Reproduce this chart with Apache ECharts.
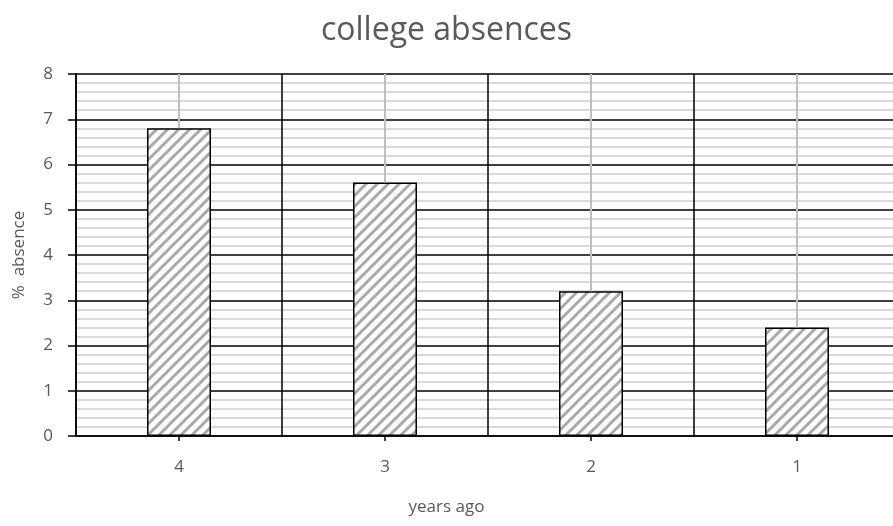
<!DOCTYPE html>
<html>
<head>
<meta charset="utf-8">
<script src="https://cdn.jsdelivr.net/npm/echarts@6/dist/echarts.min.js"></script>
<style>
  html, body { margin: 0; padding: 0; background: #fff; }
  #chart { width: 893px; height: 526px; }
</style>
</head>
<body>
<div id="chart"></div>
<script>
// Years-ago categories and absence percentages
const categories = ['4', '3', '2', '1'];
const absences = [6.8, 5.6, 3.2, 2.4];
const yMin = 0;
const yMax = 8;
const yStep = 1;

// Diagonal hatch fill for the bars
function hatchPattern() {
  const size = 11;
  const c = document.createElement('canvas');
  c.width = size;
  c.height = size;
  const ctx = c.getContext('2d');
  ctx.fillStyle = '#ffffff';
  ctx.fillRect(0, 0, size, size);
  ctx.strokeStyle = '#a9a9a9';
  ctx.lineWidth = 3;
  ctx.beginPath();
  ctx.moveTo(-size / 2, size / 2); ctx.lineTo(size / 2, -size / 2);
  ctx.moveTo(0, size); ctx.lineTo(size, 0);
  ctx.moveTo(size / 2, size * 1.5); ctx.lineTo(size * 1.5, size / 2);
  ctx.stroke();
  return c;
}

const textColor = '#595959';
const font = "'Open Sans', 'Noto Sans', sans-serif";

const chart = echarts.init(document.getElementById('chart'), null, { renderer: 'canvas' });

chart.setOption({
  animation: false,
  backgroundColor: '#ffffff',
  title: {
    text: 'college absences',
    left: 'center',
    top: 10,
    textStyle: { color: textColor, fontSize: 32, fontWeight: 'normal', fontFamily: font }
  },
  // x-axis title is centred on the whole canvas rather than on the plot area
  graphic: [{
    type: 'text',
    left: 'center',
    top: 499,
    style: { text: 'years ago', fill: textColor, font: "17px 'Open Sans', 'Noto Sans', sans-serif" }
  }],
  grid: { left: 76, right: -7, top: 74, bottom: 90, outerBoundsMode: 'none', containLabel: false },
  xAxis: {
    type: 'category',
    data: categories,
    axisLine: { show: true, lineStyle: { color: '#000', width: 1.5 } },
    axisTick: { show: true, alignWithLabel: true, length: 5, lineStyle: { color: '#000', width: 1.5 } },
    axisLabel: { color: textColor, fontSize: 17, fontFamily: font, margin: 23 },
    splitLine: { show: true, lineStyle: { color: '#000', width: 1.5 } }
  },
  yAxis: {
    type: 'value',
    min: yMin,
    max: yMax,
    interval: yStep,
    name: '%  absence',
    nameLocation: 'middle',
    nameGap: 48,
    nameTextStyle: { color: textColor, fontSize: 17, fontFamily: font },
    axisLine: { show: true, lineStyle: { color: '#000', width: 1.5 } },
    axisTick: { show: true, length: 8, lineStyle: { color: '#000', width: 1.5 } },
    axisLabel: { color: textColor, fontSize: 17, fontFamily: font, margin: 23 },
    splitLine: { show: true, lineStyle: { color: '#000', width: 1.5 } },
    minorTick: { show: false, splitNumber: 5 },
    minorSplitLine: { show: true, lineStyle: { color: '#d9d9d9', width: 2 } }
  },
  series: [{
    type: 'bar',
    data: absences,
    barWidth: 64,
    itemStyle: {
      color: { image: hatchPattern(), repeat: 'repeat' },
      borderColor: '#000',
      borderWidth: 1.5
    },
    markLine: {
      silent: true,
      symbol: 'none',
      label: { show: false },
      lineStyle: { color: '#bfbfbf', width: 2, type: 'solid' },
      data: absences.map((v, i) => [
        { coord: [i, v] },
        { coord: [i, yMax] }
      ])
    }
  }]
});
</script>
</body>
</html>
